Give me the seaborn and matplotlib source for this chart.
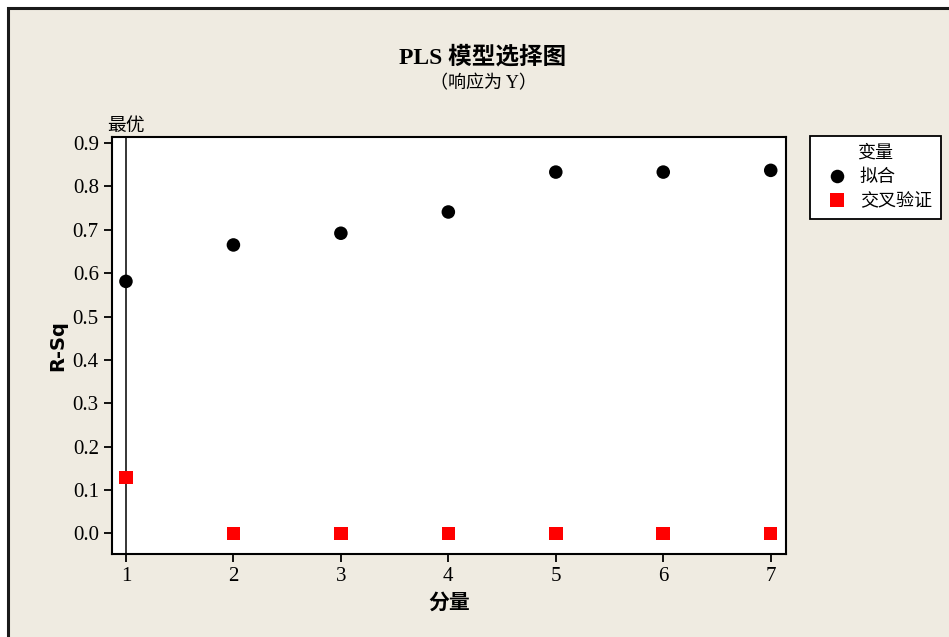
import pandas as pd
import matplotlib
matplotlib.use('Agg')
import matplotlib.pyplot as plt
import seaborn as sns

# 数据
components = [1, 2, 3, 4, 5, 6, 7]
fit_rsq = [0.581, 0.665, 0.692, 0.741, 0.833, 0.833, 0.837]
cv_rsq = [0.129, 0.0, 0.0, 0.0, 0.0, 0.0, 0.0]
series_names = ['拟合', '交叉验证']
y_ticks = [0.0, 0.1, 0.2, 0.3, 0.4, 0.5, 0.6, 0.7, 0.8, 0.9]
best_n = 1

bg = '#EFEBE1'

sns.set_style('ticks')
plt.rcParams['font.family'] = ['Liberation Serif', 'Noto Sans CJK SC', 'DejaVu Sans']
plt.rcParams['axes.unicode_minus'] = False
plt.rcParams['text.color'] = 'black'
plt.rcParams['axes.labelcolor'] = 'black'

df = pd.DataFrame({'分量': components, series_names[0]: fit_rsq, series_names[1]: cv_rsq})
long = df.melt(id_vars='分量', var_name='变量', value_name='R-Sq')

fig = plt.figure(figsize=(9.49, 6.37), dpi=100, facecolor='white')

# 外框（米色背景 + 深色边）
fig.patches.append(plt.Rectangle((0.0084, -0.02), 1.02, 1.0067, transform=fig.transFigure,
                                 facecolor=bg, edgecolor='#1a1a1a', lw=2.2, zorder=-10))

ax = fig.add_axes([0.118, 0.130, 0.710, 0.655])
ax.set_facecolor('white')

sns.scatterplot(data=long, x='分量', y='R-Sq', hue='变量', style='变量',
                palette=['black', 'red'], markers=['o', 's'],
                s=95, linewidth=0, ax=ax, zorder=3)

# 最优分量参考线
ax.axvline(best_n, color='black', lw=1.1, zorder=2)
ax.text(best_n, 1.003, '最优', ha='center', va='bottom', fontsize=13.5,
        transform=ax.get_xaxis_transform(), family=['Noto Sans CJK SC'])

ax.set_xlim(0.87, 7.14)
ax.set_ylim(-0.048, 0.914)
ax.set_xticks(components)
ax.set_yticks(y_ticks)
ax.set_yticklabels([f'{v:.1f}' for v in y_ticks])
ax.tick_params(direction='out', length=6, width=1.3, labelsize=15, colors='black')
for sp in ax.spines.values():
    sp.set_visible(True)
    sp.set_linewidth(1.5)
    sp.set_color('black')

ax.set_xlabel('分量', fontsize=15, fontweight='bold', family=['Noto Sans CJK SC'])
ax.set_ylabel('R-Sq', fontsize=14, fontweight='bold', family=['DejaVu Sans'])

fig.text(0.509, 0.910, 'PLS 模型选择图', ha='center', va='center', fontsize=17,
         fontweight='bold')
fig.text(0.509, 0.869, '（响应为 Y）', ha='center', va='center', fontsize=13)

leg = ax.legend(title='变量', loc='upper left', bbox_to_anchor=(1.036, 1.003),
                borderaxespad=0, frameon=True, fancybox=False, edgecolor='black',
                framealpha=1, fontsize=13, title_fontsize=13, handletextpad=0.25,
                borderpad=0.5, labelspacing=0.4, markerscale=1.0)
leg.get_frame().set_linewidth(1.3)
leg.get_frame().set_facecolor('white')

fig.savefig('out.png', dpi=100, facecolor='white')
